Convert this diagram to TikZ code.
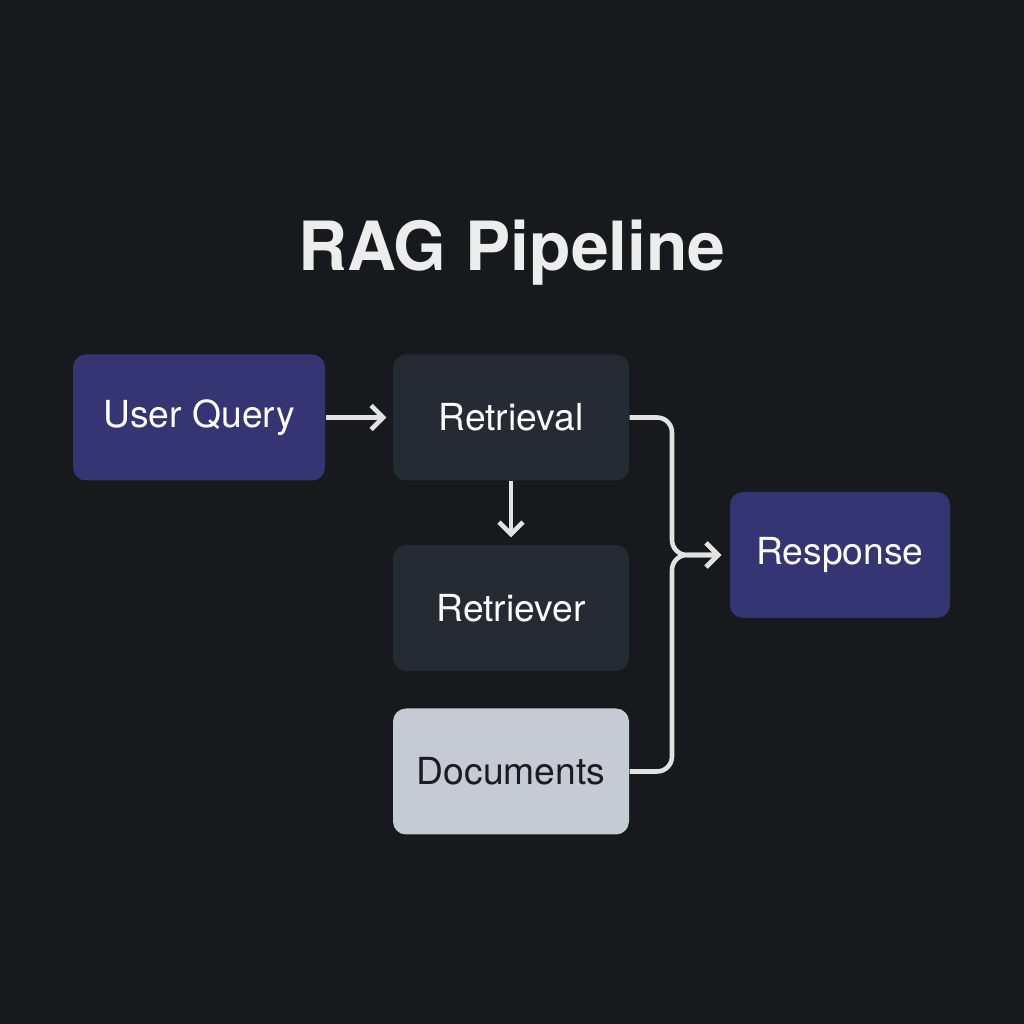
\documentclass[tikz,border=0pt]{standalone}
\usepackage{fontspec}
\setmainfont{TeX Gyre Heros}
\usetikzlibrary{arrows.meta}
\definecolor{bgdark}{HTML}{17191C}
\definecolor{indigo}{HTML}{363573}
\definecolor{slate}{HTML}{252A33}
\definecolor{paper}{HTML}{C5CAD3}
\definecolor{ink}{HTML}{1A1C20}
\definecolor{wire}{HTML}{E2E2E2}
\definecolor{chalk}{HTML}{EDEDED}
\begin{document}
\begin{tikzpicture}[
    box/.style={rectangle, rounded corners=0.13cm, minimum height=1.26cm, inner sep=0pt,
      font=\fontsize{10.6}{13}\selectfont},
    ioBox/.style={box, fill=indigo, text=white},
    darkBox/.style={box, fill=slate, text=white},
    lightBox/.style={box, fill=paper, text=ink},
    pfeil/.style={draw=wire, line width=1.3pt, -{Straight Barb[length=1.2mm, width=2.4mm, line width=1.3pt]}}
  ]
  \fill[bgdark] (0,0) rectangle (10.24,10.24);
  \useasboundingbox (0,0) rectangle (10.24,10.24);

  \node[text=chalk, font=\bfseries\fontsize{19.3}{24}\selectfont] (title) at (5.12,7.71) {RAG Pipeline};

  \node[ioBox, minimum width=2.52cm] (query) at (1.99,6.065) {User Query};
  \node[darkBox, minimum width=2.36cm] (retrieval) at (5.11,6.065) {Retrieval};
  \node[darkBox, minimum width=2.36cm] (retriever) at (5.11,4.16) {Retriever};
  \node[lightBox, minimum width=2.36cm] (documents) at (5.11,2.525) {Documents};
  \node[ioBox, minimum width=2.20cm] (response) at (8.40,4.69) {Response};

  % Verbindungen
  \coordinate (join) at (6.72,4.69);
  \draw[pfeil] (query.east) -- ([xshift=-0.06cm]retrieval.west);
  \draw[pfeil] (retrieval.south) -- ([yshift=0.07cm]retriever.north);
  \draw[pfeil, rounded corners=0.15cm] (retrieval.east) -| (join) -- ([xshift=-0.08cm]response.west);
  \draw[pfeil, rounded corners=0.15cm] (documents.east) -| (join) -- ([xshift=-0.08cm]response.west);

\end{tikzpicture}
\end{document}
